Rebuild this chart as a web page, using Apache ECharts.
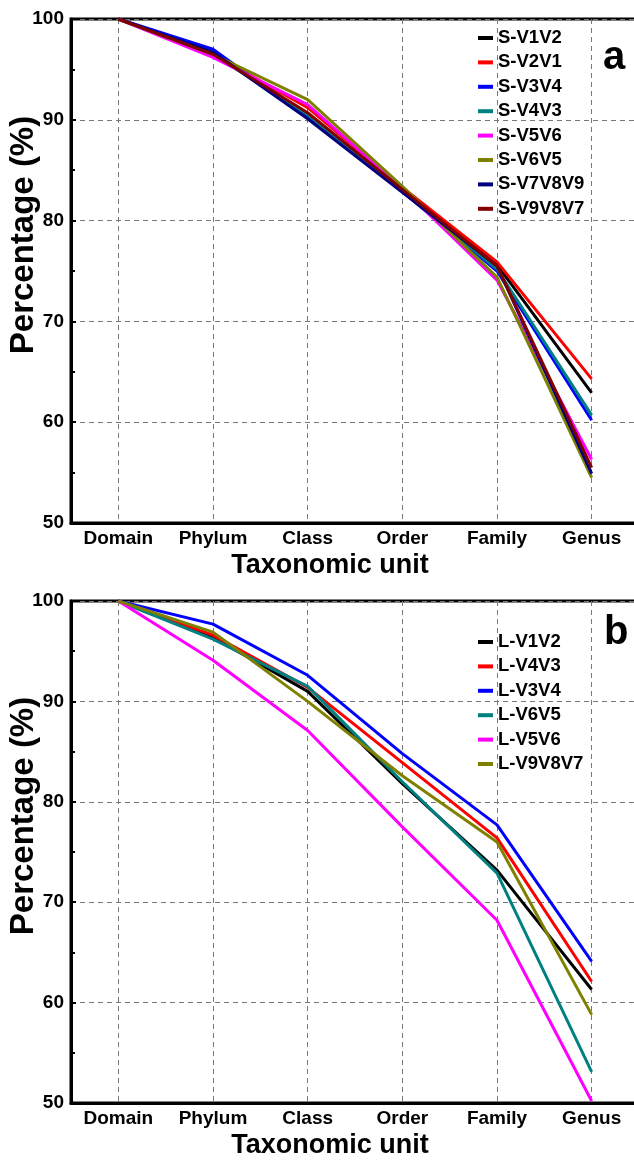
<!DOCTYPE html>
<html style="height: 100%">
<head>
<meta charset="utf-8">
<script src="https://cdn.jsdelivr.net/npm/echarts@6/dist/echarts.min.js"></script>
</head>
<body style="height: 100%; margin: 0; background: #fff;">
<div id="container" style="width: 634px; height: 1161px;"></div>
<script type="text/javascript">
// 分类（横轴）
var units = ['Domain', 'Phylum', 'Class', 'Order', 'Family', 'Genus'];
var yTicks = [50, 60, 70, 80, 90, 100];

// 图 a
var namesA = ['S-V1V2', 'S-V2V1', 'S-V3V4', 'S-V4V3', 'S-V5V6', 'S-V6V5', 'S-V7V8V9', 'S-V9V8V7'];
var sV1V2   = [100, 96.6, 90.6, 83.0, 75.6, 62.9];
var sV2V1   = [100, 96.5, 91.2, 83.3, 75.9, 64.3];
var sV3V4   = [100, 97.0, 90.2, 82.9, 75.0, 60.2];
var sV4V3   = [100, 96.5, 90.5, 82.9, 75.2, 60.7];
var sV5V6   = [100, 96.2, 91.5, 83.2, 74.1, 56.3];
var sV6V5   = [100, 96.5, 92.0, 83.4, 74.4, 54.5];
var sV7V8V9 = [100, 96.7, 90.1, 82.8, 75.5, 54.9];
var sV9V8V7 = [100, 96.5, 90.7, 83.1, 75.5, 55.5];
var dataA = [sV1V2, sV2V1, sV3V4, sV4V3, sV5V6, sV6V5, sV7V8V9, sV9V8V7];
var colorsA = ['#000000', '#ff0000', '#0000ff', '#008080', '#ff00ff', '#808000', '#000080', '#800000'];

// 图 b
var namesB = ['L-V1V2', 'L-V4V3', 'L-V3V4', 'L-V6V5', 'L-V5V6', 'L-V9V8V7'];
var lV1V2   = [100, 96.4, 91.0, 81.8, 73.2, 61.3];
var lV4V3   = [100, 96.6, 91.4, 83.9, 76.4, 62.1];
var lV3V4   = [100, 97.7, 92.6, 84.8, 77.7, 64.1];
var lV6V5   = [100, 96.2, 91.5, 82.0, 72.9, 53.1];
var lV5V6   = [100, 94.1, 87.1, 77.5, 68.2, 50.2];
var lV9V8V7 = [100, 96.9, 90.0, 82.6, 76.0, 58.8];
var dataB = [lV1V2, lV4V3, lV3V4, lV6V5, lV5V6, lV9V8V7];
var colorsB = ['#000000', '#ff0000', '#0000ff', '#008080', '#ff00ff', '#808000'];

var FONT = 'Liberation Sans, Arial, sans-serif';

function makeX(idx) {
    return {
        type: 'category',
        gridIndex: idx,
        data: units,
        boundaryGap: true,
        name: 'Taxonomic unit',
        nameLocation: 'middle',
        nameGap: 29,
        nameTextStyle: {fontFamily: FONT, fontWeight: 'bold', fontSize: 27, color: '#000', padding: [0, 50, 0, 0]},
        axisLine: {lineStyle: {color: '#000', width: 3}},
        axisTick: {inside: true, alignWithLabel: true, length: 5, lineStyle: {color: '#000', width: 3}},
        axisLabel: {margin: 6, fontFamily: FONT, fontWeight: 'bold', fontSize: 19, color: '#000', interval: 0},
        splitLine: {show: true, interval: 0, alignWithLabel: true, lineStyle: {color: '#777', width: 1, type: [5, 4]}}
    };
}

function makeY(idx) {
    return {
        type: 'value',
        gridIndex: idx,
        min: yTicks[0],
        max: yTicks[yTicks.length - 1],
        interval: yTicks[1] - yTicks[0],
        name: 'Percentage (%)',
        nameLocation: 'middle',
        nameGap: 31,
        nameMoveOverlap: false,
        nameTextStyle: {fontFamily: FONT, fontWeight: 'bold', fontSize: 33, color: '#000', padding: [0, 0, 0, 72]},
        axisLine: {show: true, lineStyle: {color: '#000', width: 3}},
        axisTick: {show: true, inside: true, length: 5, lineStyle: {color: '#000', width: 2}},
        minorTick: {show: true, splitNumber: 2, length: 4, lineStyle: {color: '#000', width: 2}},
        axisLabel: {margin: 7, fontFamily: FONT, fontWeight: 'bold', fontSize: 19, color: '#000'},
        splitLine: {show: true, lineStyle: {color: '#777', width: 1, type: [5, 4]}}
    };
}

function makeSeries(names, data, colors, idx) {
    return names.map(function (n, i) {
        return {
            name: n,
            type: 'line',
            xAxisIndex: idx,
            yAxisIndex: idx,
            data: data[i],
            showSymbol: false,
            symbol: 'none',
            color: colors[i],
            lineStyle: {width: 3, color: colors[i]}
        };
    });
}

function makeLegend(names, top) {
    return {
        orient: 'vertical',
        left: 478,
        top: top,
        data: names,
        icon: 'rect',
        itemWidth: 15,
        itemHeight: 4,
        itemGap: 4.4,
        padding: 0,
        textStyle: {fontFamily: FONT, fontWeight: 'bold', fontSize: 18.5, color: '#000', lineHeight: 20}
    };
}

var dom = document.getElementById('container');
var myChart = echarts.init(dom, null, {renderer: 'canvas'});

var option = {
    animation: false,
    backgroundColor: '#fff',
    grid: [
        {left: 71, top: 19, right: -5, height: 504, show: true, borderColor: '#000', borderWidth: 3, outerBoundsMode: 'none'},
        {left: 71, top: 601, right: -5, height: 502, show: true, borderColor: '#000', borderWidth: 3, outerBoundsMode: 'none'}
    ],
    xAxis: [makeX(0), makeX(1)],
    yAxis: [makeY(0), makeY(1)],
    legend: [makeLegend(namesA, 28), makeLegend(namesB, 632)],
    graphic: [
        {type: 'text', left: 603, top: 38, style: {text: 'a', font: 'bold 40px ' + FONT, fill: '#000'}},
        {type: 'text', left: 604, top: 613, style: {text: 'b', font: 'bold 40px ' + FONT, fill: '#000'}}
    ],
    series: makeSeries(namesA, dataA, colorsA, 0).concat(makeSeries(namesB, dataB, colorsB, 1))
};

myChart.setOption(option);
</script>
</body>
</html>
